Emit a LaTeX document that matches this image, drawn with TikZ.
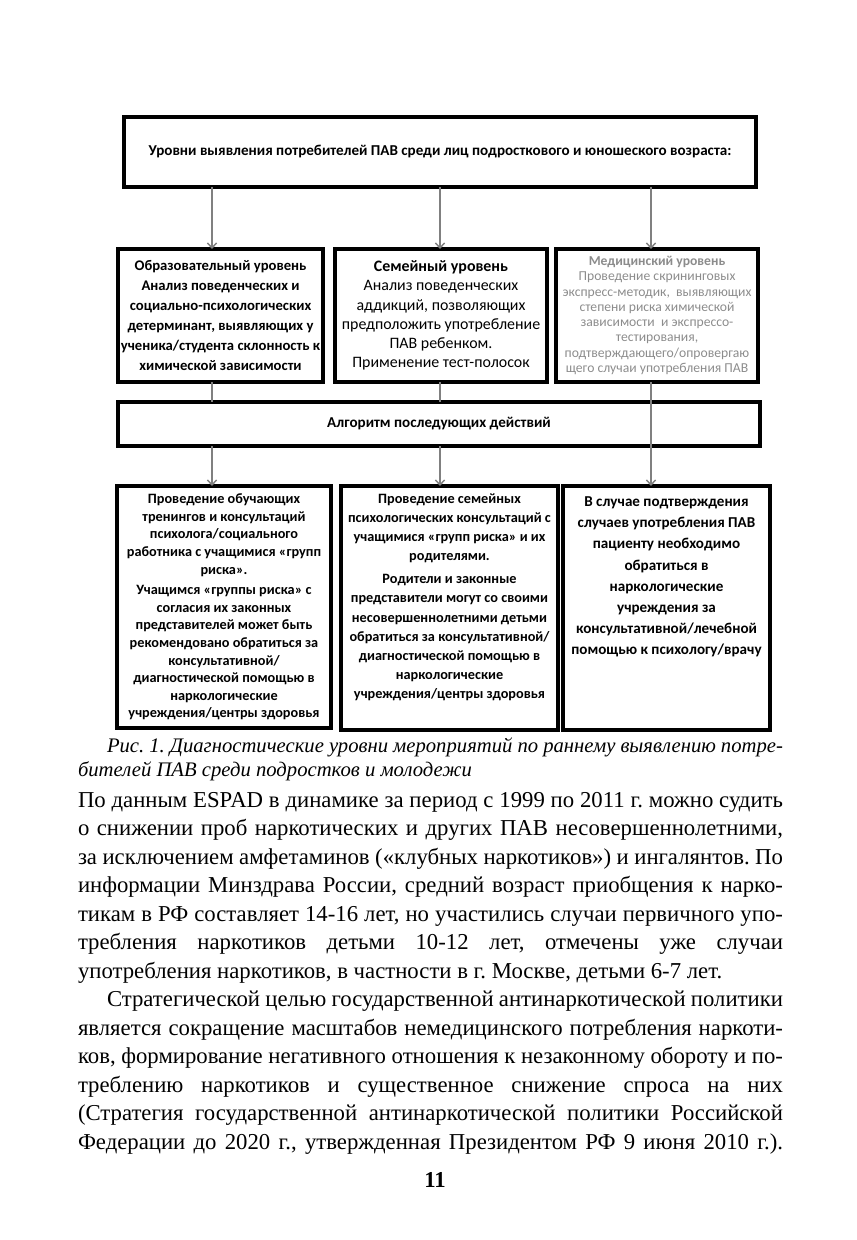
\documentclass[tikz,border=0pt]{standalone}
\usepackage{fontspec}
\setmainfont{Liberation Serif}
\newfontfamily\diagfont{Carlito}
\usetikzlibrary{arrows.meta,positioning,calc}
\newlength\pxu
\setlength\pxu{0.17mm}
\definecolor{linkgray}{gray}{0.5}
\definecolor{medgray}{gray}{0.55}
\newcommand\fitline[1]{\makebox[705\pxu][s]{#1}}
\frenchspacing

\begin{document}
\begin{tikzpicture}[
  x=0.17mm, y=-0.17mm,
  every node/.style={inner sep=0pt, outer sep=0pt},
  box/.style={draw=black, line width=1.9pt, align=center},
  headtext/.style={font=\diagfont\bfseries\fontsize{7.3}{9}\selectfont},
  edutext/.style={font=\diagfont\bfseries\fontsize{7.1}{9.6}\selectfont},
  famtext/.style={font=\diagfont\fontsize{7.7}{9.3}\selectfont},
  medtext/.style={font=\diagfont\fontsize{6.6}{7.4}\selectfont, text=medgray},
  acttext/.style={font=\diagfont\bfseries\fontsize{6.9}{8.5}\selectfont, align=center},
  casetext/.style={font=\diagfont\bfseries\fontsize{7.3}{10.2}\selectfont, align=center},
  bodytext/.style={font=\fontsize{11}{13.78}\selectfont, align=left},
  capttext/.style={font=\itshape\fontsize{10}{11.6}\selectfont, align=left},
  arr/.style={linkgray, line width=0.7pt, -{Straight Barb[length=2.4pt,width=4.4pt]}},
  link/.style={linkgray, line width=0.7pt}
]
  \useasboundingbox (0,0) rectangle (856,1240);

  % columns of the connectors
  \coordinate (k1) at (212,0);
  \coordinate (k2) at (440,0);
  \coordinate (k3) at (651,0);

  \node[box, headtext, minimum width=632\pxu, minimum height=70\pxu] (levels) at (440,152)
    {Уровни выявления потребителей ПАВ среди лиц подросткового и юношеского возраста:};

  \node[box, edutext, minimum width=205\pxu, minimum height=133\pxu] (edu) at (220.5,315.5)
    {Образовательный уровень\\ Анализ поведенческих и\\ социально-психологических\\
     детерминант, выявляющих у\\ ученика/студента склонность к\\ химической зависимости};
  \node[box, famtext, minimum width=212\pxu, minimum height=133\pxu] (fam) at (441,315.5)
    {\textbf{Семейный уровень}\\ Анализ поведенческих\\ аддикций, позволяющих\\
     предположить употребление\\ ПАВ ребенком.\\ Применение тест-полосок};
  \node[box, medtext, minimum width=202\pxu, minimum height=133\pxu] (med) at (657,315.5)
    {\textbf{Медицинский уровень}\\ Проведение скрининговых\\ экспресс-методик,\ \ выявляющих\\
     степени риска химической\\ зависимости\ \ и экспрессо-\\ тестирования,\\
     подтверждающего/опровергаю\\ щего случаи употребления ПАВ};

  \node[box, headtext, minimum width=642\pxu, minimum height=44\pxu] (alg) at (439,424)
    {Алгоритм последующих действий};

  \node[box, acttext, minimum width=214\pxu, minimum height=242\pxu] (act1) at (224,607)
    {Проведение обучающих\\ тренингов и консультаций\\ психолога/социального\\
     работника с учащимися «групп\\ риска».\\[1.5pt] Учащимся «группы риска» с\\
     согласия их законных\\ представителей может быть\\ рекомендовано обратиться за\\
     консультативной/\\ диагностической помощью в\\ наркологические\\ учреждения/центры здоровья};
  \node[box, minimum width=217\pxu, minimum height=244\pxu] (act2) at (449.5,608) {};
  \node[acttext, font=\diagfont\bfseries\fontsize{6.9}{9.2}\selectfont, below=8\pxu of act2.north] (act2text)
    {Проведение семейных\\ психологических консультаций с\\ учащимися «групп риска» и их\\
     родителями.\\[2pt] Родители и законные\\ представители могут со своими\\
     несовершеннолетними детьми\\ обратиться за консультативной/\\ диагностической помощью в\\
     наркологические\\ учреждения/центры здоровья};
  \node[box, minimum width=207\pxu, minimum height=244\pxu] (act3) at (666.5,608) {};
  \node[casetext, below=11\pxu of act3.north] (act3text)
    {В случае подтверждения\\ случаев употребления ПАВ\\ пациенту необходимо\\ обратиться в\\
     наркологические\\ учреждения за\\ консультативной/лечебной\\ помощью к психологу/врачу};

  \foreach \n/\k in {edu/k1, fam/k2, med/k3}
    \draw[arr] (levels.south -| \k) -- (\n.north -| \k);
  \foreach \n/\k in {edu/k1, fam/k2}
    \draw[link] (\n.south -| \k) -- (alg.north -| \k);
  \foreach \n/\k in {act1/k1, act2/k2}
    \draw[arr] (alg.south -| \k) -- (\n.north -| \k);
  \draw[arr] (med.south -| k3) -- (act3.north -| k3);

  \node[capttext, anchor=north west] (caption) at (78,738)
    {\fitline{\hspace*{29\pxu}Рис. 1. Диагностические уровни мероприятий по раннему выявлению потре-}\\
     бителей ПАВ среди подростков и молодежи};

  \node[bodytext, anchor=north west] (body) at (78,792)
    {\fitline{По данным ESPAD в динамике за период с 1999 по 2011 г. можно судить}\\
     \fitline{о снижении проб наркотических и других ПАВ несовершеннолетними,}\\
     \fitline{за исключением амфетаминов («клубных наркотиков») и ингалянтов. По}\\
     \fitline{информации Минздрава России, средний возраст приобщения к нарко-}\\
     \fitline{тикам в РФ составляет 14-16 лет, но участились случаи первичного упо-}\\
     \fitline{требления наркотиков детьми 10-12 лет, отмечены уже случаи}\\
     употребления наркотиков, в частности в г. Москве, детьми 6-7 лет.\\
     \fitline{\hspace*{29\pxu}Стратегической целью государственной антинаркотической политики}\\
     \fitline{является сокращение масштабов немедицинского потребления наркоти-}\\
     \fitline{ков, формирование негативного отношения к незаконному обороту и по-}\\
     \fitline{треблению наркотиков и существенное снижение спроса на них}\\
     \fitline{(Стратегия государственной антинаркотической политики Российской}\\
     \fitline{Федерации до 2020 г., утвержденная Президентом РФ 9 июня 2010 г.).}};

  \node[font=\bfseries\fontsize{11}{13}\selectfont] (pageno) at (435,1180) {11};
\end{tikzpicture}
\end{document}
